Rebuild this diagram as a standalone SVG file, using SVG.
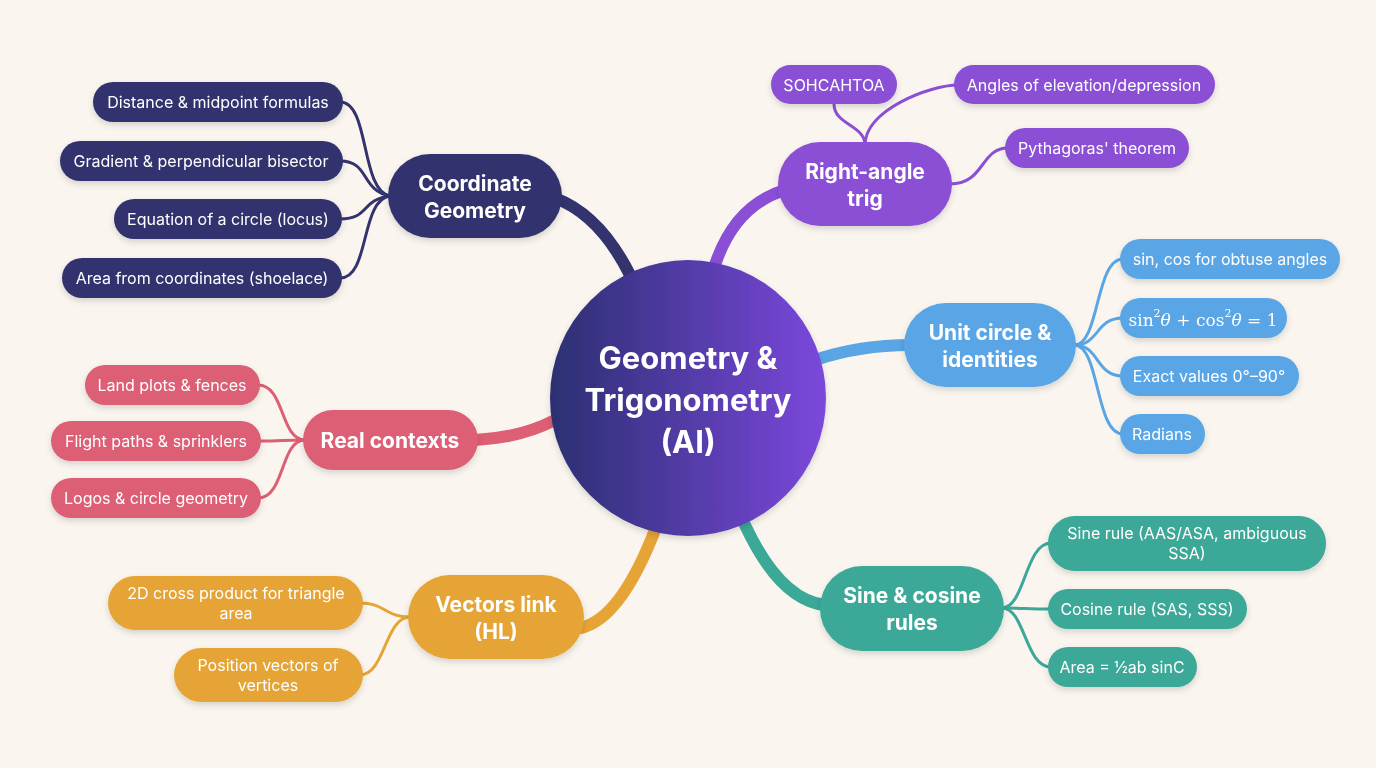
<svg xmlns="http://www.w3.org/2000/svg" width="1376" height="768" viewBox="0 0 1376 768">
<defs>
<linearGradient id="cg" x1="0" y1="0" x2="1" y2="0"><stop offset="0" stop-color="#2c2f72"/><stop offset="1" stop-color="#7b48dc"/></linearGradient>
<filter id="sh" x="-20%" y="-20%" width="140%" height="150%"><feDropShadow dx="0" dy="3" stdDeviation="3" flood-color="#000" flood-opacity="0.15"/></filter>
</defs>
<style>
text{font-family:Inter,"Noto Sans",sans-serif;fill:#fff;text-anchor:middle;dominant-baseline:central}
.m{font-size:21px;font-weight:700}
.l{font-size:16px}
.n{fill:#33336e}.p{fill:#8b4fd6}.b{fill:#5aa5e5}.r{fill:#dc5f74}.o{fill:#e5a435}.t{fill:#3ba898}
.c path{fill:none;stroke-linecap:round}
</style>
<rect width="1376" height="768" fill="#faf6ef"/>
<g class="c">
<g stroke-width="12">
<path d="M630 275 Q600 215 555 198" stroke="#33336e"/>
<path d="M715 265 Q735 205 785 190" stroke="#8b4fd6"/>
<path d="M815 360 Q860 345 910 345" stroke="#5aa5e5"/>
<path d="M555 420 Q520 438 475 440" stroke="#dc5f74"/>
<path d="M655 530 Q620 620 580 628" stroke="#e5a435"/>
<path d="M745 525 Q780 600 825 605" stroke="#3ba898"/>
</g>
<g stroke-width="3">
<path d="M390 196 C360 190 370 102 340 102" stroke="#33336e"/>
<path d="M390 196 C360 190 370 161 340 161" stroke="#33336e"/>
<path d="M390 196 C360 200 370 219 340 219" stroke="#33336e"/>
<path d="M390 196 C360 200 370 278 340 278" stroke="#33336e"/>
<path d="M865 145 C865 125 834 125 834 104" stroke="#8b4fd6"/>
<path d="M865 145 C865 110 930 85 958 85" stroke="#8b4fd6"/>
<path d="M950 184 C985 184 980 148 1008 148" stroke="#8b4fd6"/>
<path d="M1074 345 C1100 345 1095 259 1123 259" stroke="#5aa5e5"/>
<path d="M1074 345 C1100 345 1095 318 1123 318" stroke="#5aa5e5"/>
<path d="M1074 345 C1100 345 1095 376 1123 376" stroke="#5aa5e5"/>
<path d="M1074 345 C1100 345 1095 434 1123 434" stroke="#5aa5e5"/>
<path d="M305 440 C280 440 285 385 258 385" stroke="#dc5f74"/>
<path d="M305 440 C280 440 285 441 258 441" stroke="#dc5f74"/>
<path d="M305 440 C280 440 285 498 258 498" stroke="#dc5f74"/>
<path d="M410 617 C385 617 385 603 360 603" stroke="#e5a435"/>
<path d="M410 617 C385 617 385 675 360 675" stroke="#e5a435"/>
<path d="M1002 608 C1025 608 1025 543 1051 543" stroke="#3ba898"/>
<path d="M1002 608 C1025 608 1025 609 1051 609" stroke="#3ba898"/>
<path d="M1002 608 C1025 608 1025 667 1051 667" stroke="#3ba898"/>
</g>
</g>
<g id="center" filter="url(#sh)"><circle cx="688" cy="398" r="138" fill="url(#cg)"/>
<text x="688" y="357" style="font-size:31px;font-weight:700">Geometry &amp;</text>
<text x="688" y="399" style="font-size:31px;font-weight:700">Trigonometry</text>
<text x="688" y="441" style="font-size:31px;font-weight:700">(AI)</text></g>
<g id="coord" filter="url(#sh)"><rect class="n" x="388" y="154" width="174" height="84" rx="42"/><text class="m" x="475" y="183">Coordinate</text><text class="m" x="475" y="210">Geometry</text></g>
<g id="c1" filter="url(#sh)"><rect class="n" x="93" y="82" width="250" height="40" rx="20"/><text class="l" x="218" y="102">Distance &amp; midpoint formulas</text></g>
<g id="c2" filter="url(#sh)"><rect class="n" x="60" y="141" width="283" height="40" rx="20"/><text class="l" x="201" y="161">Gradient &amp; perpendicular bisector</text></g>
<g id="c3" filter="url(#sh)"><rect class="n" x="114" y="199" width="228" height="40" rx="20"/><text class="l" x="228" y="219">Equation of a circle (locus)</text></g>
<g id="c4" filter="url(#sh)"><rect class="n" x="62" y="258" width="280" height="40" rx="20"/><text class="l" x="202" y="278">Area from coordinates (shoelace)</text></g>
<g id="rat" filter="url(#sh)"><rect class="p" x="778" y="142" width="174" height="84" rx="42"/><text class="m" x="865" y="171">Right-angle</text><text class="m" x="865" y="198">trig</text></g>
<g id="r1" filter="url(#sh)"><rect class="p" x="771" y="65" width="126" height="39" rx="19.5"/><text class="l" x="834" y="85">SOHCAHTOA</text></g>
<g id="r2" filter="url(#sh)"><rect class="p" x="954" y="65" width="261" height="39" rx="19.5"/><text class="l" x="1084" y="85">Angles of elevation/depression</text></g>
<g id="r3" filter="url(#sh)"><rect class="p" x="1005" y="128" width="184" height="40" rx="20"/><text class="l" x="1097" y="148">Pythagoras' theorem</text></g>
<g id="unit" filter="url(#sh)"><rect class="b" x="904" y="303" width="172" height="84" rx="42"/><text class="m" x="990" y="332">Unit circle &amp;</text><text class="m" x="990" y="359">identities</text></g>
<g id="u1" filter="url(#sh)"><rect class="b" x="1120" y="239" width="220" height="40" rx="20"/><text class="l" x="1230" y="259">sin, cos for obtuse angles</text></g>
<g id="u2" filter="url(#sh)"><rect class="b" x="1120" y="298" width="167" height="40" rx="20"/><text x="1203" y="320" style="font-family:'DejaVu Serif','Liberation Serif',serif;font-size:17px">sin<tspan dy="-7" font-size="11">2</tspan><tspan dy="7" font-style="italic">θ</tspan> + cos<tspan dy="-7" font-size="11">2</tspan><tspan dy="7" font-style="italic">θ</tspan> = 1</text></g>
<g id="u3" filter="url(#sh)"><rect class="b" x="1120" y="356" width="179" height="40" rx="20"/><text class="l" x="1209" y="376">Exact values 0°–90°</text></g>
<g id="u4" filter="url(#sh)"><rect class="b" x="1120" y="414" width="85" height="40" rx="20"/><text class="l" x="1162" y="434">Radians</text></g>
<g id="real" filter="url(#sh)"><rect class="r" x="303" y="410" width="175" height="60" rx="30"/><text class="m" x="390" y="440">Real contexts</text></g>
<g id="e1" filter="url(#sh)"><rect class="r" x="85" y="365" width="175" height="40" rx="20"/><text class="l" x="172" y="385">Land plots &amp; fences</text></g>
<g id="e2" filter="url(#sh)"><rect class="r" x="51" y="421" width="210" height="40" rx="20"/><text class="l" x="156" y="441">Flight paths &amp; sprinklers</text></g>
<g id="e3" filter="url(#sh)"><rect class="r" x="51" y="478" width="210" height="40" rx="20"/><text class="l" x="156" y="498">Logos &amp; circle geometry</text></g>
<g id="vec" filter="url(#sh)"><rect class="o" x="408" y="575" width="176" height="84" rx="42"/><text class="m" x="496" y="604">Vectors link</text><text class="m" x="496" y="631">(HL)</text></g>
<g id="v1" filter="url(#sh)"><rect class="o" x="108" y="576" width="255" height="54" rx="27"/><text class="l" x="236" y="593">2D cross product for triangle</text><text class="l" x="236" y="613">area</text></g>
<g id="v2" filter="url(#sh)"><rect class="o" x="174" y="648" width="189" height="54" rx="27"/><text class="l" x="268" y="665">Position vectors of</text><text class="l" x="268" y="685">vertices</text></g>
<g id="sine" filter="url(#sh)"><rect class="t" x="820" y="566" width="184" height="85" rx="42"/><text class="m" x="912" y="595">Sine &amp; cosine</text><text class="m" x="912" y="622">rules</text></g>
<g id="s1" filter="url(#sh)"><rect class="t" x="1048" y="516" width="278" height="55" rx="27"/><text class="l" x="1187" y="533">Sine rule (AAS/ASA, ambiguous</text><text class="l" x="1187" y="553">SSA)</text></g>
<g id="s2" filter="url(#sh)"><rect class="t" x="1048" y="589" width="199" height="40" rx="20"/><text class="l" x="1147" y="609">Cosine rule (SAS, SSS)</text></g>
<g id="s3" filter="url(#sh)"><rect class="t" x="1048" y="647" width="149" height="40" rx="20"/><text class="l" x="1122" y="667">Area = ½ab sinC</text></g>
</svg>
